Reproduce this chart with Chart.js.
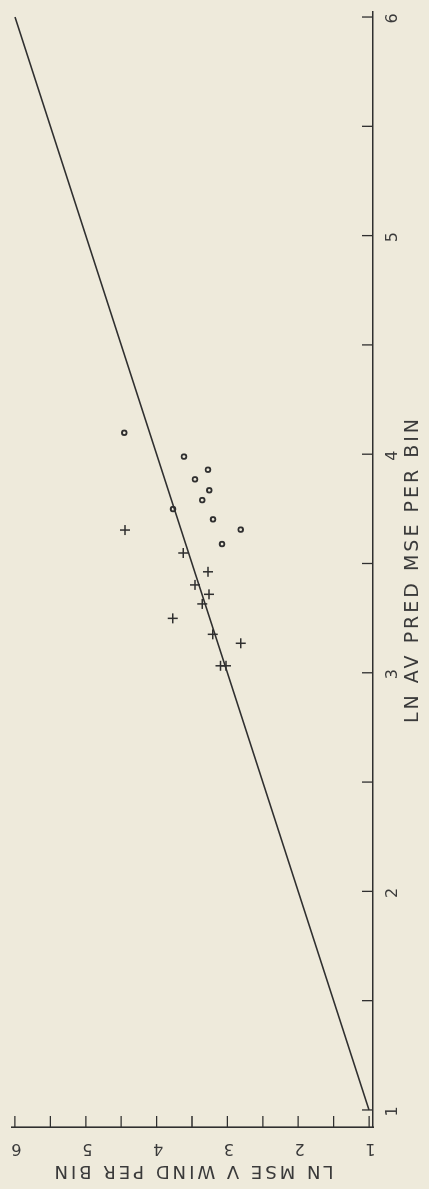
<!DOCTYPE html>
<html><head><meta charset="utf-8">
<script src="https://cdn.jsdelivr.net/npm/chart.js@4/dist/chart.umd.min.js"></script>
<style>
html,body{margin:0;padding:0;background:#eeeadb;width:429px;height:1189px;overflow:hidden;}
#wrap{position:absolute;left:0;top:0;width:1189px;height:429px;transform-origin:0 0;transform:translate(0,1189px) rotate(-90deg);}
canvas{display:block;}
</style></head><body>
<div id="wrap"><canvas id="c" width="1189" height="429"></canvas></div>
<script>
// Tick positions
const xTickValues = [1, 1.5, 2, 2.5, 3, 3.5, 4, 4.5, 5, 5.5, 6];
const yTickValues = [1, 1.5, 2, 2.5, 3, 3.5, 4, 4.5, 5, 5.5, 6];
const xTitle = 'LN AV PRED MSE PER BIN';
const yTitle = 'LN MSE V WIND PER BIN';

// Circle series
const circleX = [4.098, 3.989, 3.929, 3.885, 3.835, 3.790, 3.749, 3.702, 3.655, 3.589];
const circleY = [4.456, 3.613, 3.274, 3.458, 3.256, 3.355, 3.768, 3.203, 2.812, 3.076];
// Plus series
const plusX = [3.653, 3.548, 3.462, 3.402, 3.359, 3.315, 3.249, 3.176, 3.135, 3.032, 3.032];
const plusY = [4.446, 3.623, 3.274, 3.458, 3.260, 3.355, 3.773, 3.208, 2.812, 3.097, 3.020];
// Reference line
const lineX = [1, 6];
const lineY = [1, 6];

const INK = '#2f2f2f';
const TXT = '#3a3a3a';
const FONT = "'DejaVu Sans', sans-serif";

const toPts = (xs, ys) => xs.map((v, i) => ({x: v, y: ys[i]}));

const spacing = {
  id: 'spacing',
  beforeDraw(chart) { chart.ctx.letterSpacing = '3px'; }
};
const inwardTicks = {
  id: 'inwardTicks',
  afterDraw(chart) {
    const {ctx, chartArea: a, scales: {x, y}} = chart;
    ctx.save();
    ctx.strokeStyle = INK; ctx.lineWidth = 1.3;
    ctx.beginPath();
    xTickValues.forEach(v => { const p = x.getPixelForValue(v); ctx.moveTo(p, a.bottom); ctx.lineTo(p, a.bottom - 11); });
    yTickValues.forEach(v => { const p = y.getPixelForValue(v); ctx.moveTo(a.left, p); ctx.lineTo(a.left + 11, p); });
    ctx.stroke();
    ctx.restore();
  }
};

new Chart(document.getElementById('c'), {
  type: 'scatter',
  data: {
    datasets: [
      {type: 'line', data: toPts(lineX, lineY), borderColor: INK, borderWidth: 1.6, pointRadius: 0, fill: false, tension: 0},
      {data: toPts(circleX, circleY), pointStyle: 'circle', pointRadius: 2.3, borderColor: INK, borderWidth: 1.8, backgroundColor: 'transparent'},
      {data: toPts(plusX, plusY), pointStyle: 'cross', pointRadius: 5, borderColor: INK, borderWidth: 1.5}
    ]
  },
  options: {
    responsive: false,
    animation: false,
    devicePixelRatio: 1,
    layout: {padding: {top: 12, right: 12, left: 0, bottom: 0}},
    plugins: {legend: {display: false}, tooltip: {enabled: false}},
    scales: {
      x: {
        type: 'linear', position: 'bottom', min: 0.922, max: 6.023,
        afterBuildTicks: s => { s.ticks = xTickValues.map(v => ({value: v})); },
        afterFit: s => { s.height = 56; s.paddingLeft = 0; s.paddingRight = 0; },
        grid: {display: false},
        border: {display: true, color: INK, width: 1.6},
        ticks: {color: TXT, font: {family: FONT, size: 16}, padding: 2, maxRotation: 0, autoSkip: false,
          callback: v => Number.isInteger(v) ? String(v) : ''},
        title: {display: true, text: xTitle, color: TXT, font: {family: FONT, size: 19}, padding: {top: 0, bottom: 5}}
      },
      y: {
        type: 'linear', position: 'left', min: 0.944, max: 6.042,
        afterBuildTicks: s => { s.ticks = yTickValues.map(v => ({value: v})); },
        afterFit: s => { s.width = 62; s.paddingTop = 0; s.paddingBottom = 0; },
        grid: {display: false},
        border: {display: true, color: INK, width: 1.6},
        ticks: {color: TXT, font: {family: FONT, size: 16}, padding: 8, minRotation: 90, maxRotation: 90, crossAlign: 'center', autoSkip: false,
          callback: v => Number.isInteger(v) ? String(v) : ''},
        title: {display: true, text: yTitle, color: TXT, font: {family: FONT, size: 18}, padding: {top: 8, bottom: 0}}
      }
    }
  },
  plugins: [spacing, inwardTicks]
});
</script>
</body></html>
